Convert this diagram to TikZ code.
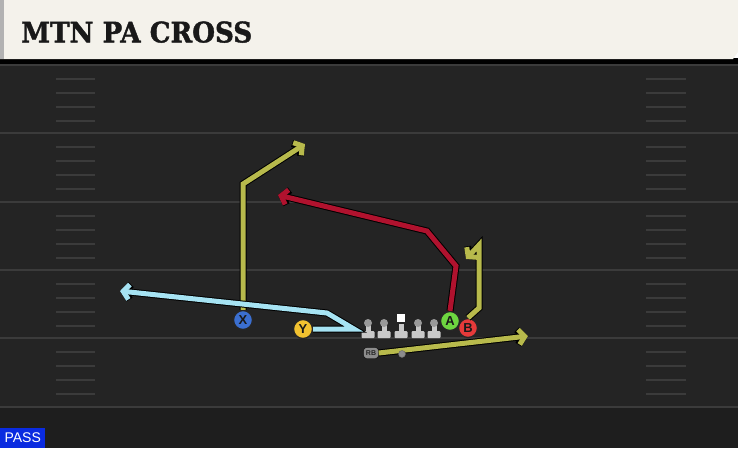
\documentclass[tikz,border=0pt]{standalone}
\usepackage{fontspec}
\usepackage{graphicx}
\setsansfont{Liberation Sans}
\newfontfamily\titlefont[FakeBold=1.5]{DejaVu Serif}
\usetikzlibrary{arrows.meta, positioning}

\definecolor{fieldbg}{HTML}{242424}
\definecolor{fieldlow}{HTML}{1E1E1E}
\definecolor{yardgray}{HTML}{3B3B3B}
\definecolor{cream}{HTML}{F4F2EB}
\definecolor{olive}{HTML}{B8BA4C}
\definecolor{crimson}{HTML}{B0122E}
\definecolor{skyblue}{HTML}{A6E3F3}
\definecolor{xblue}{HTML}{3B6FD0}
\definecolor{yyellow}{HTML}{F2C230}
\definecolor{agreen}{HTML}{6ED640}
\definecolor{bred}{HTML}{E53A3A}
\definecolor{passblue}{HTML}{0A2BE0}
\definecolor{olgray}{HTML}{C8C8C8}

\begin{document}
\begin{tikzpicture}[x=1pt, y=-1pt,
    player/.style={circle, draw=black!85, line width=1.3pt, minimum size=19pt, inner sep=0pt,
                   font=\sffamily\bfseries\fontsize{13}{13}\selectfont, text=black!90},
    route/.style={line width=5pt, line join=miter, preaction={draw=black, line width=7pt}},
    tip/.style={-{Straight Barb[length=6pt, width=15pt]}},
    yard/.style={draw=yardgray, line width=1.6pt},
    hash/.style={draw=yardgray, line width=1.3pt}]

    \useasboundingbox (0,0) rectangle (738,448);

    % Field
    \fill[fieldbg] (0,60) rectangle (738,448);
    \fill[fieldlow] (0,407) rectangle (738,448);
    \foreach \yl in {65,133,202,270,338,407}
        \draw[yard] (0,\yl) -- (738,\yl);
    \foreach \yl in {65,133,202,270,338}
        \foreach \off in {14,28,42,56} {
            \draw[hash] (56,\yl+\off) -- (95,\yl+\off);
            \draw[hash] (646,\yl+\off) -- (686,\yl+\off);
        }

    % Title bar
    \fill[black] (0,58) rectangle (738,64);
    \fill[cream] (0,0) -- (738,0) -- (738,52) -- (733,59) -- (0,59) -- cycle;
    \fill[black!30] (0,0) rectangle (4,59);
    \node[anchor=south west, inner sep=0pt, text=black!90] (title) at (21,43)
        {\resizebox{231pt}{21pt}{\titlefont\bfseries MTN PA CROSS}};

    % Offensive line
    \foreach \lx in {368,384,401,418,434} {
        \fill[olgray] (\lx-2.5,324) rectangle (\lx+2.5,333);
        \fill[olgray, rounded corners=1pt] (\lx-6.5,331) rectangle (\lx+6.5,338);
    }
    \foreach \lx in {368,384,418,434}
        \fill[black!40] (\lx,323) circle (4);
    \fill[white] (397,314) rectangle (405,322);

    % Backfield
    \node[draw=black, fill=black!45, rounded corners=3pt, minimum width=15pt, minimum height=11pt,
          inner sep=0pt, font=\sffamily\bfseries\fontsize{7}{7}\selectfont, text=black!85] (rb) at (371,353) {RB};

    % Players
    \node[player, fill=xblue] (x) at (243,320) {X};
    \node[player, fill=yyellow] (y) at (303,329) {Y};
    \node[player, fill=agreen] (a) at (450,321) {A};
    \node[player, fill=bred] (b) at (468,328) {B};

    % Route points
    \coordinate (xbreak) at (243,184);
    \coordinate (xend) at (305,144);
    \coordinate (abreak1) at (456,266);
    \coordinate (abreak2) at (427,231);
    \coordinate (aend) at (278,195);
    \coordinate (bbreak1) at (479,308);
    \coordinate (bbreak2) at (479,245);
    \coordinate (bend) at (466,259);
    \coordinate (ybreak1) at (354,329);
    \coordinate (ybreak2) at (327,313);
    \coordinate (yend) at (120,291);
    \coordinate (rbend) at (528,336);

    % Routes
    \draw[route, olive, tip] (x.north) -- (xbreak) -- (xend);
    \draw[route, crimson, tip] (a.north) -- (abreak1) -- (abreak2) -- (aend);
    \draw[route, olive, tip] (b.north) -- (bbreak1) -- (bbreak2) -- (bend);
    \draw[route, skyblue, tip] (y.east) -- (ybreak1) -- (ybreak2) -- (yend);
    \draw[route, olive, tip] (rb.east) -- (rbend);

    % Quarterback on top of the back's route
    \node[circle, fill=black!45, draw=black!60, minimum size=7pt, inner sep=0pt] (qb) at (402,354) {};

    % Play type tag
    \node[anchor=south west, fill=passblue, text=white, inner sep=0pt, minimum width=45pt,
          minimum height=20pt, font=\sffamily\fontsize{14}{14}\selectfont] (tag) at (0,448) {PASS};
\end{tikzpicture}
\end{document}
